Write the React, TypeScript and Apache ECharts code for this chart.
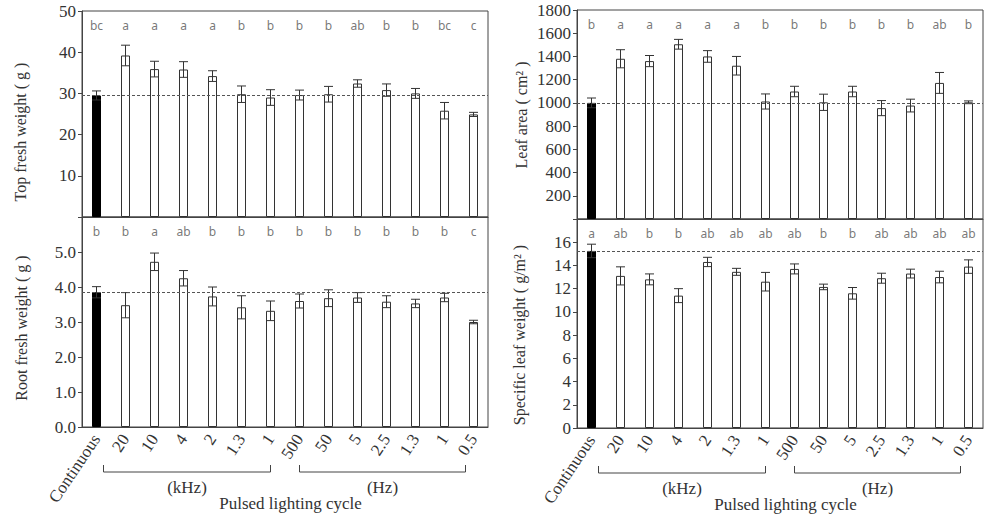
import React, { useEffect, useRef } from "react";
import * as echarts from "echarts";

const categories = ["Continuous", "20", "10", "4", "2", "1.3", "1", "500", "50", "5", "2.5", "1.3", "1", "0.5"];

const topFresh = [29.5, 39.2, 35.9, 35.8, 34.2, 29.8, 29.0, 29.6, 29.8, 32.4, 30.8, 30.0, 25.8, 24.9];
const topFreshErr = [1.1, 2.5, 1.9, 1.9, 1.3, 2.0, 1.9, 1.2, 1.9, 0.9, 1.5, 1.2, 2.0, 0.5];
const topLetters = ["bc", "a", "a", "a", "a", "b", "b", "b", "b", "ab", "b", "b", "bc", "c"];

const leafArea = [1000, 1380, 1360, 1505, 1400, 1320, 1012, 1098, 1005, 1098, 955, 977, 1172, 1005];
const leafAreaErr = [42, 78, 48, 42, 50, 80, 65, 45, 70, 45, 65, 55, 90, 12];
const leafLetters = ["b", "a", "a", "a", "a", "a", "b", "b", "b", "b", "b", "b", "ab", "b"];

const rootFresh = [3.85, 3.48, 4.72, 4.25, 3.73, 3.42, 3.32, 3.6, 3.68, 3.7, 3.58, 3.53, 3.7, 3.0];
const rootFreshErr = [0.16, 0.36, 0.25, 0.22, 0.27, 0.33, 0.28, 0.2, 0.24, 0.14, 0.17, 0.12, 0.12, 0.05];
const rootLetters = ["b", "b", "a", "ab", "b", "b", "b", "b", "b", "b", "b", "b", "b", "c"];

const slw = [15.25, 13.1, 12.8, 11.4, 14.3, 13.45, 12.6, 13.7, 12.15, 11.6, 12.9, 13.3, 13.0, 13.9];
const slwErr = [0.58, 0.78, 0.47, 0.6, 0.4, 0.3, 0.8, 0.43, 0.24, 0.5, 0.43, 0.38, 0.5, 0.58];
const slwLetters = ["a", "ab", "b", "b", "ab", "ab", "ab", "ab", "b", "b", "ab", "ab", "ab", "ab"];

const yNames = ["Top fresh weight ( g )", "Leaf area ( cm\u00B2 )", "Root fresh weight ( g )", "Specific leaf weight ( g/m\u00B2 )"];

const SERIF = "'Liberation Serif', 'DejaVu Serif', serif";
const INK = "#333";

type Panel = {
  vals: number[];
  errs: number[];
  letters: string[];
  max: number;
  interval: number;
  fmt: (v: number) => string;
  grid: { left: number; top: number; width: number; height: number };
  showX: boolean;
};

const panels: Panel[] = [
  { vals: topFresh, errs: topFreshErr, letters: topLetters, max: 50, interval: 10, fmt: (v) => (v === 0 ? "" : String(v)), grid: { left: 82, top: 11, width: 406, height: 206 }, showX: false },
  { vals: leafArea, errs: leafAreaErr, letters: leafLetters, max: 1800, interval: 200, fmt: (v) => (v === 0 ? "" : String(v)), grid: { left: 577, top: 10, width: 406, height: 209 }, showX: false },
  { vals: rootFresh, errs: rootFreshErr, letters: rootLetters, max: 6, interval: 1, fmt: (v) => (v >= 6 ? "" : v.toFixed(1)), grid: { left: 82, top: 217, width: 406, height: 210 }, showX: true },
  { vals: slw, errs: slwErr, letters: slwLetters, max: 18, interval: 2, fmt: (v) => (v >= 18 ? "" : String(v)), grid: { left: 577, top: 219, width: 406, height: 209 }, showX: true },
];

export default function App() {
  const ref = useRef<HTMLDivElement>(null);
  useEffect(() => {
    if (!ref.current) return;
    const chart = echarts.init(ref.current, undefined, { renderer: "svg" });
    const grids = panels.map((p) => ({ ...p.grid, show: true, borderColor: "#444", borderWidth: 1, backgroundColor: "transparent" }));
    const xAxes = panels.map((p, k) => ({
      type: "category",
      gridIndex: k,
      data: categories,
      axisLine: { show: true, lineStyle: { color: "#444" } },
      axisTick: { show: false },
      axisLabel: p.showX
        ? { show: true, interval: 0, rotate: 56, margin: 9, fontFamily: SERIF, fontSize: 17, color: INK }
        : { show: false },
    }));
    const yAxes = panels.map((p, k) => ({
      type: "value",
      gridIndex: k,
      min: 0,
      max: p.max,
      interval: p.interval,
      splitLine: { show: false },
      axisLine: { show: true, lineStyle: { color: "#444" } },
      axisTick: { show: true, length: 4, inside: false, lineStyle: { color: "#444" } },
      axisLabel: { formatter: p.fmt, fontFamily: SERIF, fontSize: 17, color: INK, margin: 6 },
    }));
    const series: any[] = [];
    panels.forEach((p, k) => {
      series.push({
        type: "bar",
        xAxisIndex: k,
        yAxisIndex: k,
        barWidth: 9,
        itemStyle: { color: "#fff", borderColor: "#333", borderWidth: 1 },
        data: p.vals.map((v, i) => (i === 0 ? { value: v, itemStyle: { color: "#000", borderColor: "#000" } } : v)),
        markLine: {
          silent: true,
          symbol: ["none", "none"],
          label: { show: false },
          lineStyle: { type: [3, 2], color: "#555", width: 1 },
          data: [{ yAxis: p.vals[0] }],
        },
        z: 2,
      });
      series.push({
        type: "custom",
        xAxisIndex: k,
        yAxisIndex: k,
        z: 3,
        encode: { x: 0, y: 1 },
        data: p.vals.map((v, i) => [i, v, p.errs[i]]),
        renderItem: (params: any, api: any) => {
          const i = api.value(0);
          const v = api.value(1);
          const e = api.value(2);
          const top = api.coord([i, v + e]);
          const bot = api.coord([i, v - e]);
          const hw = 4.5;
          const style = { stroke: "#333", lineWidth: 1 };
          return {
            type: "group",
            children: [
              { type: "line", shape: { x1: top[0], y1: top[1], x2: bot[0], y2: bot[1] }, style },
              { type: "line", shape: { x1: top[0] - hw, y1: top[1], x2: top[0] + hw, y2: top[1] }, style },
              { type: "line", shape: { x1: bot[0] - hw, y1: bot[1], x2: bot[0] + hw, y2: bot[1] }, style },
            ],
          };
        },
      });
      series.push({
        type: "scatter",
        xAxisIndex: k,
        yAxisIndex: k,
        symbolSize: 0,
        silent: true,
        data: p.letters.map((_, i) => [i, p.max * 0.93]),
        label: {
          show: true,
          position: "inside",
          formatter: (prm: any) => p.letters[prm.dataIndex],
          fontFamily: "'Noto Sans', 'DejaVu Sans', sans-serif",
          fontSize: 12,
          color: "#555",
        },
      });
    });
    chart.setOption({
      animation: false,
      grid: grids,
      xAxis: xAxes,
      yAxis: yAxes,
      series,
    });

    const textStyle = (text: string, size: number) => ({
      text,
      fontFamily: SERIF,
      fontSize: size,
      fill: INK,
      align: "center",
      verticalAlign: "middle",
    });

    const graphic: any[] = [];
    const namePos = [
      [20, 132],
      [521, 115],
      [21, 328],
      [519, 335],
    ];
    yNames.forEach((n, k) => {
      graphic.push({
        type: "text",
        x: namePos[k][0],
        y: namePos[k][1],
        rotation: Math.PI / 2,
        style: textStyle(n, 16),
      });
    });
    [2, 3].forEach((k) => {
      const g = panels[k].grid;
      const base = g.top + g.height;
      const cx = (i: number) => chart.convertToPixel({ xAxisIndex: k } as any, i) as unknown as number;
      const yH = base + 45;
      const yE = base + 38;
      const brackets = [
        { x1: cx(1) - 22, x2: cx(6), label: "(kHz)" },
        { x1: cx(7), x2: cx(13) - 8, label: "(Hz)" },
      ];
      brackets.forEach((b) => {
        graphic.push({
          type: "polyline",
          shape: { points: [[b.x1, yE], [b.x1, yH], [b.x2, yH], [b.x2, yE]] },
          style: { stroke: "#444", lineWidth: 1, fill: null },
        });
        graphic.push({
          type: "text",
          x: (b.x1 + b.x2) / 2,
          y: base + 60,
          style: textStyle(b.label, 17),
        });
      });
      graphic.push({
        type: "text",
        x: (brackets[0].x1 + brackets[1].x2) / 2 + 6,
        y: base + 76,
        style: textStyle("Pulsed lighting cycle", 17),
      });
    });
    chart.setOption({ graphic });
    return () => chart.dispose();
  }, []);
  return <div ref={ref} style={{ position: "fixed", left: 0, top: 0, width: 985, height: 517, background: "#fff" }} />;
}
